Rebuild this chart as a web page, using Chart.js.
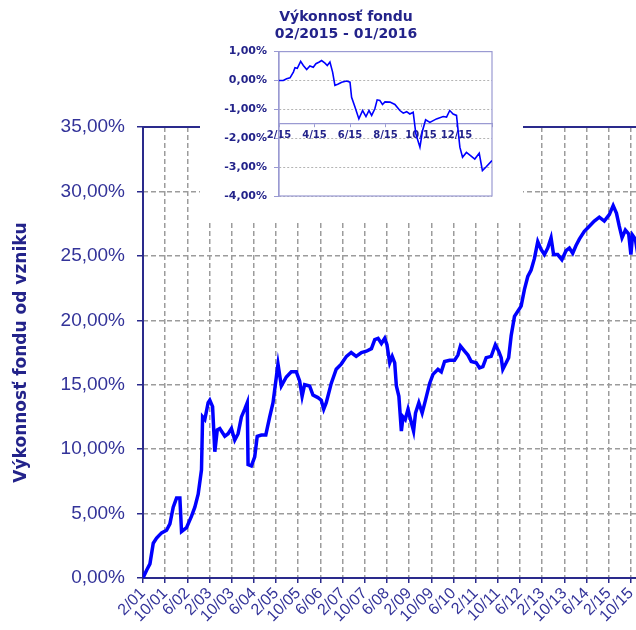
<!DOCTYPE html>
<html>
<head>
<meta charset="utf-8">
<script src="https://cdn.jsdelivr.net/npm/chart.js@4.4.1/dist/chart.umd.min.js"></script>
<style>
  body { margin: 0; background: #fff; overflow: hidden; }
  #wrap { position: relative; width: 636px; height: 630px; overflow: hidden; }
  #mainChart { position: absolute; left: 0; top: 0; }
  #insetBox { position: absolute; left: 200px; top: 0; width: 323px; height: 222px; background: #fff; }
  #insetChart { position: absolute; left: 0; top: 0; }
</style>
</head>
<body>
<div id="wrap">
  <canvas id="mainChart" width="650" height="630"></canvas>
  <div id="insetBox"><canvas id="insetChart" width="296" height="222"></canvas></div>
</div>
<script>
// main chart: months since 2/2001, fund return since start (%)
const mainMonths = [0,1.3,2.5,3.7,4.9,6.7,8.5,9.7,10.9,12.1,
  13.3,13.9,15.7,17.5,18.7,19.9,21.1,21.5,22.3,23.5,
  24.1,25.1,25.9,26.8,27.7,29.5,30.7,31.9,33.1,34.3,
  35.5,36.7,37.6,37.9,39.1,40.3,41.2,42.7,44.3,45.7,
  46.9,48.1,48.7,49.9,51.7,53.5,55.3,56.5,57.4,58.3,
  60.1,61.3,63.1,64.3,65.2,66.1,67.9,69.7,71.5,73.4,
  75.1,76.9,78.8,80.6,82.4,83.6,84.8,86.0,87.2,88.0,
  89.0,89.9,90.8,91.4,92.3,93.2,93.8,94.6,95.6,96.4,
  97.6,98.3,99.5,100.7,101.9,103.4,104.6,106.4,107.6,108.8,
  110.6,112.4,113.6,114.5,116.0,117.2,118.4,120.2,121.4,122.6,
  123.8,125.6,127.1,128.3,129.2,129.8,131.0,131.9,132.8,134.0,
  135.2,136.4,137.6,138.8,140.0,141.2,142.4,143.6,144.8,146.0,
  147.2,148.1,149.6,151.1,152.6,153.8,155.0,156.2,157.4,159.2,
  161.0,162.8,164.6,166.4,168.2,169.6,170.8,171.8,172.8,174.0,
  175.2,176.0,176.6,177.6,178.6,179.6];
const mainValues = [0,0.6,1.1,2.7,3.1,3.5,3.7,4.2,5.5,6.2,
  6.2,3.6,3.9,4.8,5.5,6.5,8.4,12.5,12.3,13.6,
  13.8,13.3,9.8,11.5,11.6,11.0,11.2,11.6,10.7,11.2,
  12.5,13.1,13.6,8.8,8.7,9.4,11.0,11.1,11.1,12.5,
  13.6,15.6,16.6,14.9,15.6,16.0,16.0,15.3,14.1,15.0,
  14.9,14.2,14.0,13.8,13.1,13.6,15.1,16.2,16.6,17.2,
  17.5,17.2,17.5,17.6,17.8,18.5,18.6,18.2,18.6,18.1,
  16.7,17.2,16.7,14.9,14.1,11.4,12.5,12.3,13.1,12.4,
  11.4,12.8,13.6,12.8,13.8,15.1,15.8,16.2,16.0,16.8,
  16.9,16.9,17.3,18.0,17.6,17.3,16.8,16.7,16.3,16.4,
  17.1,17.2,18.1,17.6,17.1,16.2,16.7,17.1,18.8,20.3,
  20.7,21.1,22.4,23.4,23.9,24.8,26.1,25.5,25.1,25.6,
  26.4,25.1,25.1,24.7,25.4,25.6,25.2,25.8,26.3,26.9,
  27.3,27.7,28.0,27.7,28.2,28.9,28.3,27.3,26.4,27.0,
  26.7,25.1,26.6,26.3,25.0,24.6];
const mainTickLabels = ['2/01','10/01','6/02','2/03','10/03','6/04','2/05','10/05','6/06','2/07','10/07','6/08',
  '2/09','10/09','6/10','2/11','10/11','6/12','2/13','10/13','6/14','2/15','10/15'];

// inset: months since 2/2015, return in the last year (%)
const insetMonths = [0,0.24,0.43,0.62,0.81,0.90,1.03,1.22,1.37,1.56,
  1.74,1.93,2.08,2.27,2.40,2.59,2.72,2.87,3.02,3.15,
  3.34,3.53,3.81,4.00,4.09,4.28,4.50,4.71,4.90,5.07,
  5.22,5.40,5.53,5.68,5.83,5.97,6.25,6.53,6.81,7.00,
  7.19,7.37,7.56,7.71,7.94,8.09,8.26,8.50,8.87,9.25,
  9.44,9.62,9.81,10.00,10.19,10.34,10.56,10.79,11.03,11.28,
  11.46,11.69,12.0];
const insetValues = [0,0,0.06,0.09,0.29,0.44,0.42,0.66,0.52,0.38,
  0.50,0.46,0.58,0.64,0.69,0.60,0.52,0.64,0.29,-0.17,
  -0.12,-0.06,-0.02,-0.06,-0.58,-0.92,-1.33,-1.04,-1.25,-1.04,
  -1.21,-0.98,-0.67,-0.69,-0.83,-0.74,-0.75,-0.83,-1.04,-1.13,
  -1.08,-1.16,-1.10,-1.85,-2.31,-1.73,-1.36,-1.45,-1.33,-1.25,
  -1.27,-1.04,-1.16,-1.21,-2.31,-2.66,-2.49,-2.60,-2.72,-2.52,
  -3.12,-2.98,-2.77];
const insetTickLabels = ['2/15','4/15','6/15','8/15','10/15','12/15'];

const NAVY = '#23238a';
const FONT = "'DejaVu Sans', sans-serif";
const FONT_TICKS = "'Liberation Sans', Arial, sans-serif";
const pct = v => v.toFixed(2).replace('.', ',') + '%';

// axis lines of the main chart (left, bottom, top)
const mainFrame = {
  id: 'mainFrame',
  beforeDatasetsDraw(chart) {
    const a = chart.chartArea, ctx = chart.ctx;
    ctx.save();
    ctx.strokeStyle = '#2a2a8c';
    ctx.lineWidth = 2;
    ctx.beginPath();
    ctx.moveTo(a.right, a.top); ctx.lineTo(a.left, a.top);
    ctx.lineTo(a.left, a.bottom); ctx.lineTo(a.right, a.bottom);
    ctx.stroke();
    ctx.restore();
  }
};

const insetFrame = {
  id: 'insetFrame',
  beforeDatasetsDraw(chart) {
    const a = chart.chartArea, ctx = chart.ctx;
    ctx.save();
    ctx.strokeStyle = '#9a9ad2';
    ctx.lineWidth = 1.2;
    ctx.strokeRect(a.left, a.top, a.right - a.left, a.bottom - a.top);
    ctx.restore();
  }
};

new Chart(document.getElementById('mainChart'), {
  type: 'line',
  data: {
    datasets: [{
      data: mainMonths.map((m, i) => ({x: m, y: mainValues[i]})),
      borderColor: '#0000ff',
      borderWidth: 3.5,
      pointRadius: 0,
      tension: 0
    }]
  },
  options: {
    responsive: false,
    animation: false,
    devicePixelRatio: 1,
    layout: {padding: {top: 127, right: 8, left: 0, bottom: 0}},
    plugins: {legend: {display: false}, tooltip: {enabled: false}},
    scales: {
      x: {
        type: 'linear', min: 0, max: 180,
        afterFit(s) { s.height = 52; s.paddingLeft = 0; s.paddingRight = 0; },
        border: {display: false, dash: [5, 3]},
        grid: {color: '#9c9c9c', lineWidth: 1.5, tickColor: '#2a2a8c', tickLength: 5, tickBorderDash: [], tickWidth: 1.5},
        ticks: {
          stepSize: 8, includeBounds: false, autoSkip: false,
          minRotation: 45, maxRotation: 45, padding: 1,
          color: '#333399', font: {family: FONT_TICKS, size: 16},
          callback: v => mainTickLabels[v / 8] || ''
        }
      },
      y: {
        min: 0, max: 35,
        afterFit(s) { s.width = 143; },
        border: {display: false, dash: [5, 3]},
        grid: {color: '#9c9c9c', lineWidth: 1.5, tickColor: '#2a2a8c', tickLength: 6, tickBorderDash: [], tickWidth: 1.5},
        ticks: {stepSize: 5, padding: 12, color: '#333399', font: {family: FONT_TICKS, size: 19}, callback: pct},
        title: {
          display: true, text: 'Výkonnosť fondu od vzniku',
          color: NAVY, font: {family: FONT, size: 17, weight: 'bold'},
          padding: {top: 11, bottom: 0}
        }
      }
    }
  },
  plugins: [mainFrame]
});

new Chart(document.getElementById('insetChart'), {
  type: 'line',
  data: {
    datasets: [{
      data: insetMonths.map((m, i) => ({x: m, y: insetValues[i]})),
      borderColor: '#0000ff',
      borderWidth: 1.6,
      pointRadius: 0,
      tension: 0
    }]
  },
  options: {
    responsive: false,
    animation: false,
    devicePixelRatio: 1,
    layout: {padding: {top: 0, right: 4, left: 0, bottom: 26}},
    plugins: {
      legend: {display: false},
      tooltip: {enabled: false},
      title: {
        display: true,
        text: ['Výkonnosť fondu', '02/2015 - 01/2016'],
        color: NAVY,
        font: {family: FONT, size: 14, weight: 'bold', lineHeight: 1.2},
        padding: {top: 9, bottom: 9}
      }
    },
    scales: {
      x: {
        type: 'linear', min: 0, max: 12,
        position: {y: -1.5},
        border: {color: '#9a9ad2', width: 1.2},
        grid: {drawOnChartArea: false, tickColor: '#9a9ad2', tickLength: 3},
        ticks: {
          stepSize: 2, includeBounds: false, autoSkip: false, maxRotation: 0, padding: 3,
          color: NAVY, font: {family: FONT, size: 10, weight: 'bold'},
          callback: v => insetTickLabels[v / 2] || ''
        }
      },
      y: {
        min: -4, max: 1,
        afterFit(s) { s.width = 79; },
        border: {color: '#9a9ad2', width: 1.2, dash: [2, 2]},
        grid: {color: '#b4b4b4', lineWidth: 1, tickColor: '#9a9ad2', tickLength: 5, tickBorderDash: []},
        ticks: {stepSize: 1, padding: 7, color: NAVY, font: {family: FONT, size: 11, weight: 'bold'}, callback: pct}
      }
    }
  },
  plugins: [insetFrame]
});
</script>
</body>
</html>
